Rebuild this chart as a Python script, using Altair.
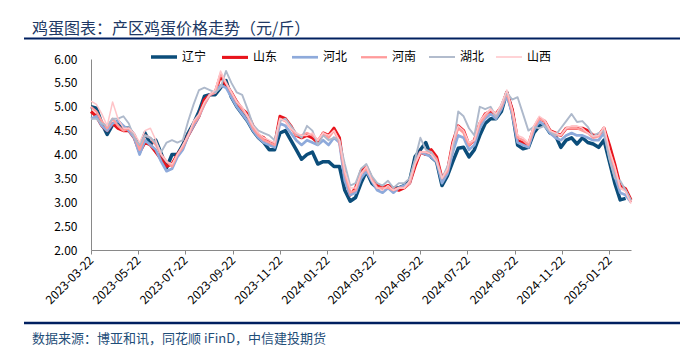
import altair as alt
import pandas as pd

# ---------------- data ----------------
start_date = "2023-03-22"
n_weeks = 101  # weekly observations, 2023-03-22 .. 2025-02-19

series_names = ["辽宁", "山东", "河北", "河南", "湖北", "山西"]
series_colors = ["#0B4D7A", "#E8141C", "#8EAADB", "#FF9B9B", "#AEB9CB", "#FFC4C8"]
series_widths = [3.5, 1.5, 2.2, 2.4, 2.2, 3.4]

liaoning = [5.00, 4.97, 4.65, 4.42, 4.62, 4.70, 4.55, 4.55, 4.40, 4.12,
            4.45, 4.22, 4.30, 4.02, 3.72, 4.00, 4.00, 4.20, 4.45, 4.65,
            4.90, 5.22, 5.25, 5.25, 5.40, 5.55, 5.20, 5.00, 4.85, 4.70,
            4.50, 4.35, 4.25, 4.10, 4.10, 4.45, 4.50, 4.30, 4.10, 3.90,
            4.00, 4.05, 3.80, 3.85, 3.85, 3.75, 3.75, 3.25, 3.02, 3.10,
            3.40, 3.65, 3.40, 3.30, 3.30, 3.30, 3.30, 3.30, 3.35, 3.45,
            3.95, 4.10, 4.25, 3.95, 3.85, 3.35, 3.55, 3.85, 4.13, 4.15,
            3.95, 4.10, 4.40, 4.65, 4.75, 4.75, 4.90, 5.30, 4.90, 4.20,
            4.12, 4.15, 4.45, 4.60, 4.62, 4.45, 4.40, 4.15, 4.30, 4.35,
            4.22, 4.35, 4.25, 4.22, 4.15, 4.30, 3.85, 3.40, 3.05, 3.08,
            None]
shandong = [4.90, 4.80, 4.60, 4.50, 4.65, 4.55, 4.50, 4.50, 4.35, 4.05,
            4.25, 4.20, 4.05, 3.90, 3.75, 3.80, 4.00, 4.15, 4.40, 4.60,
            4.80, 5.15, 5.25, 5.30, 5.65, 5.45, 5.30, 5.10, 4.95, 4.85,
            4.60, 4.40, 4.35, 4.25, 4.20, 4.80, 4.75, 4.60, 4.40, 4.35,
            4.40, 4.35, 4.25, 4.45, 4.40, 4.55, 4.35, 3.55, 3.15, 3.30,
            3.65, 3.75, 3.50, 3.35, 3.30, 3.35, 3.30, 3.25, 3.30, 3.40,
            3.75, 4.05, 4.00, 4.10, 3.95, 3.50, 3.65, 4.25, 4.60, 4.50,
            4.20, 4.30, 4.65, 4.85, 4.90, 4.85, 5.00, 5.30, 4.95, 4.30,
            4.25, 4.20, 4.55, 4.75, 4.70, 4.50, 4.45, 4.40, 4.55, 4.55,
            4.55, 4.55, 4.50, 4.40, 4.40, 4.55, 4.20, 3.80, 3.35, 3.28,
            3.05]
hebei = [4.75, 4.80, 4.60, 4.50, 4.65, 4.70, 4.60, 4.50, 4.35, 4.00,
         4.30, 4.20, 4.10, 3.85, 3.65, 3.70, 3.95, 4.10, 4.40, 4.60,
         4.80, 5.05, 5.25, 5.30, 5.45, 5.40, 5.20, 5.00, 4.85, 4.70,
         4.50, 4.35, 4.25, 4.20, 4.15, 4.65, 4.60, 4.45, 4.30, 4.20,
         4.30, 4.25, 4.20, 4.30, 4.20, 4.35, 4.25, 3.45, 3.15, 3.20,
         3.50, 3.65, 3.45, 3.25, 3.20, 3.30, 3.20, 3.30, 3.35, 3.40,
         3.85, 4.05, 4.00, 3.95, 3.85, 3.40, 3.60, 4.05, 4.40, 4.35,
         4.10, 4.20, 4.55, 4.75, 4.85, 4.75, 4.95, 5.25, 4.85, 4.25,
         4.20, 4.15, 4.50, 4.70, 4.60, 4.45, 4.35, 4.30, 4.40, 4.45,
         4.40, 4.40, 4.35, 4.30, 4.30, 4.45, 3.95, 3.55, 3.20, 3.15,
         3.00]
henan = [5.00, 4.90, 4.70, 4.55, 4.75, 4.60, 4.50, 4.55, 4.40, 4.10,
         4.40, 4.35, 4.20, 4.00, 3.85, 3.75, 4.00, 4.15, 4.40, 4.65,
         4.80, 5.05, 5.25, 5.30, 5.70, 5.50, 5.30, 5.10, 4.95, 4.80,
         4.55, 4.40, 4.30, 4.25, 4.20, 4.75, 4.70, 4.55, 4.40, 4.40,
         4.45, 4.40, 4.30, 4.45, 4.35, 4.50, 4.25, 3.60, 3.20, 3.25,
         3.60, 3.70, 3.50, 3.30, 3.30, 3.30, 3.25, 3.30, 3.30, 3.40,
         3.80, 4.05, 4.05, 4.05, 3.90, 3.50, 3.65, 4.20, 4.55, 4.45,
         4.20, 4.30, 4.65, 4.80, 4.95, 4.80, 5.00, 5.30, 4.90, 4.35,
         4.30, 4.20, 4.55, 4.75, 4.70, 4.50, 4.40, 4.40, 4.55, 4.55,
         4.55, 4.50, 4.45, 4.35, 4.38, 4.55, 4.05, 3.70, 3.30, 3.25,
         3.00]
hubei = [4.75, 4.75, 4.65, 4.60, 4.75, 4.75, 4.80, 4.65, 4.35, 4.20,
         4.40, 4.35, 4.25, 4.05, 4.25, 4.30, 4.25, 4.30, 4.70, 5.05,
         5.35, 5.40, 5.35, 5.30, 5.40, 5.75, 5.50, 5.30, 5.25, 4.95,
         4.62, 4.50, 4.45, 4.40, 4.30, 4.70, 4.75, 4.60, 4.45, 4.35,
         4.60, 4.50, 4.20, 4.40, 4.30, 4.35, 4.30, 3.80, 3.35, 3.40,
         3.70, 3.80, 3.55, 3.40, 3.35, 3.45, 3.30, 3.40, 3.40, 3.50,
         3.90, 4.35, 4.10, 4.05, 3.85, 3.50, 3.75, 4.10, 4.90, 4.80,
         4.55, 4.40, 5.00, 4.95, 5.00, 4.80, 5.05, 5.30, 5.15, 5.20,
         4.85, 4.50, 4.58, 4.55, 4.60, 4.48, 4.40, 4.55, 4.70, 4.85,
         4.68, 4.70, 4.58, 4.38, 4.45, 4.50, 3.90, 3.50, 3.45, 3.25,
         3.05]
shanxi = [5.12, 5.05, 4.85, 4.60, 5.10, 4.75, 4.55, 4.55, 4.45, 4.25,
          4.50, 4.55, 4.30, 4.00, 3.85, 3.80, 4.00, 4.20, 4.40, 4.70,
          4.85, 5.10, 5.25, 5.35, 5.75, 5.50, 5.30, 5.10, 5.00, 4.80,
          4.60, 4.45, 4.35, 4.30, 4.25, 4.75, 4.70, 4.55, 4.45, 4.40,
          4.40, 4.45, 4.30, 4.45, 4.40, 4.50, 4.30, 3.65, 3.30, 3.30,
          3.60, 3.75, 3.45, 3.30, 3.25, 3.35, 3.25, 3.30, 3.30, 3.45,
          3.80, 4.05, 4.05, 4.00, 3.85, 3.50, 3.70, 4.25, 4.60, 4.50,
          4.25, 4.30, 4.70, 4.85, 4.95, 4.85, 5.05, 5.35, 4.95, 4.40,
          4.35, 4.25, 4.60, 4.80, 4.72, 4.50, 4.45, 4.40, 4.55, 4.60,
          4.60, 4.55, 4.45, 4.38, 4.40, 4.58, 4.10, 3.75, 3.30, 3.22,
          2.97]

y_ticks = [2.0, 2.5, 3.0, 3.5, 4.0, 4.5, 5.0, 5.5, 6.0]
x_tick_months = [(2023, 3), (2023, 5), (2023, 7), (2023, 9), (2023, 11),
                 (2024, 1), (2024, 3), (2024, 5), (2024, 7), (2024, 9),
                 (2024, 11), (2025, 1)]

title_text = "鸡蛋图表：产区鸡蛋价格走势（元/斤）"
source_text = "数据来源：博亚和讯，同花顺 iFinD，中信建投期货"

# ---------------- build table ----------------
dates = pd.date_range(start_date, periods=n_weeks, freq="7D")
rows = []
for name, vals in zip(series_names, [liaoning, shandong, hebei, henan, hubei, shanxi]):
    for d, v in zip(dates, vals):
        if v is not None:
            rows.append({"date": d, "series": name, "price": v})
df = pd.DataFrame(rows)

FONT = "Noto Sans CJK SC"
W, H = 540, 191

x_enc = alt.X(
    "date:T",
    title=None,
    scale=alt.Scale(domain=[alt.DateTime(year=2023, month=3, date=22),
                            alt.DateTime(year=2025, month=2, date=19)]),
    axis=alt.Axis(
        values=[alt.DateTime(year=y, month=m, date=22) for y, m in x_tick_months],
        format="%Y-%m-%d", labelAngle=315, labelAlign="right", labelBaseline="middle",
        grid=False, tickSize=4, labelPadding=4, labelFontSize=12,
        domainColor="#898989", tickColor="#898989", labelColor="#000000",
        labelFont=FONT, labelOverlap=False,
    ),
)
y_enc = alt.Y(
    "price:Q",
    title=None,
    scale=alt.Scale(domain=[2, 6], nice=False, zero=False),
    axis=alt.Axis(
        values=y_ticks, format=".2f", grid=False, ticks=False, labelPadding=14,
        labelFontSize=12, domainColor="#898989", labelColor="#000000", labelFont=FONT,
    ),
)

lines = alt.Chart(df).mark_line(interpolate="linear", strokeJoin="round").encode(
    x=x_enc,
    y=y_enc,
    color=alt.Color(
        "series:N",
        scale=alt.Scale(domain=series_names, range=series_colors),
        legend=alt.Legend(
            orient="none", legendX=58, legendY=-17, direction="horizontal", columns=6,
            title=None, symbolType="stroke", symbolSize=676, labelFontSize=12,
            labelFont=FONT, labelColor="#000000", labelOffset=3, columnPadding=8,
            padding=0,
        ),
    ),
    strokeWidth=alt.StrokeWidth(
        "series:N", scale=alt.Scale(domain=series_names, range=series_widths)
    ),
)

one = pd.DataFrame({"k": [0]})

title_mark = alt.Chart(one).mark_text(
    text=title_text, align="left", baseline="middle", fontSize=16, font=FONT,
    color="#203864",
).encode(x=alt.value(-59), y=alt.value(-30))

top_rule = alt.Chart(one).mark_rule(color="#002060", strokeWidth=2).encode(
    x=alt.value(-67), x2=alt.value(589), y=alt.value(-20.5)
)

bottom_rule = alt.Chart(one).mark_rule(color="#002060", strokeWidth=2.5).encode(
    x=alt.value(-67), x2=alt.value(589), y=alt.value(264)
)

source_mark = alt.Chart(one).mark_text(
    text=source_text, align="left", baseline="middle", fontSize=13, font=FONT,
    color="#1F4E79",
).encode(x=alt.value(-59), y=alt.value(280))

chart = alt.layer(lines, title_mark, top_rule, bottom_rule, source_mark).properties(
    width=W, height=H,
    padding={"left": 83, "top": 51, "right": 49, "bottom": 98},
    autosize=alt.AutoSizeParams(type="none"),
    background="white",
).configure_view(stroke=None)

chart.save("out.html", embed_options={"renderer": "svg", "actions": False})
